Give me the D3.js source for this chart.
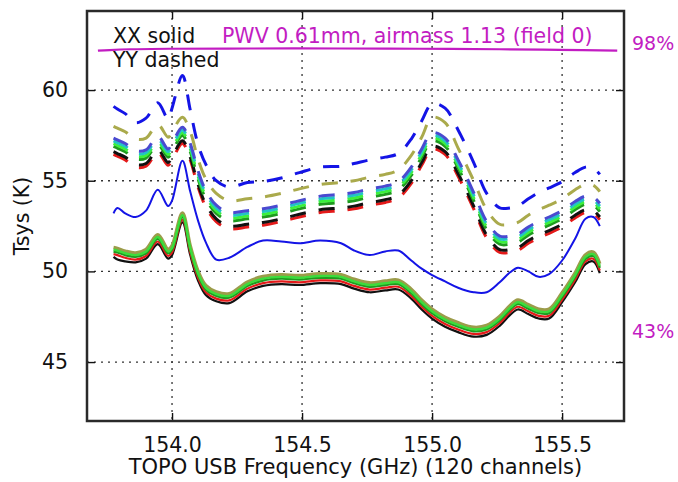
<!DOCTYPE html>
<html>
<head>
<meta charset="utf-8">
<script src="https://cdn.jsdelivr.net/npm/d3@7"></script>
<style>
  html, body { margin: 0; padding: 0; background: #fff; }
  svg { display: block; font-family: "DejaVu Sans", sans-serif; }
</style>
</head>
<body>
<svg id="chart" width="678" height="482"></svg>
<script>
// Channel frequencies (GHz, TOPO USB) sampled along the band
const freqGHz = [153.775, 153.79, 153.82, 153.86, 153.90, 153.945, 153.985, 154.00, 154.04, 154.07,
  154.10, 154.13, 154.17, 154.22, 154.29, 154.35, 154.42, 154.49, 154.57, 154.65,
  154.70, 154.76, 154.82, 154.87, 154.92, 154.96, 155.00, 155.05, 155.10, 155.16,
  155.21, 155.26, 155.30, 155.33, 155.37, 155.41, 155.45, 155.50, 155.55, 155.59,
  155.62, 155.645];

// XX polarisation Tsys (K), one array per antenna
const xxBlue  = [53.2, 53.5, 53.2, 53.0, 53.35, 54.5, 53.6, 53.9, 56.1, 54.4,
  52.8, 51.6, 50.65, 50.75, 51.35, 51.7, 51.65, 51.55, 51.7, 51.55,
  51.15, 50.9, 51.1, 51.15, 50.6, 50.15, 49.8, 49.45, 49.1, 48.85,
  48.85, 49.4, 49.95, 50.2, 50.0, 49.7, 49.85, 50.6, 51.8, 52.9, 53.0, 52.5];
const xxOlive = [51.32, 51.27, 51.12, 51.02, 51.22, 52.02, 51.22, 51.42, 53.22, 51.42,
  50.02, 49.22, 48.87, 48.77, 49.42, 49.72, 49.82, 49.77, 49.87, 49.82,
  49.57, 49.37, 49.47, 49.52, 49.02, 48.42, 47.92, 47.47, 47.17, 46.92,
  47.02, 47.52, 48.12, 48.42, 48.17, 47.92, 47.92, 48.82, 49.92, 50.92, 51.07, 50.42];
const xxLime  = [51.2, 51.15, 51.0, 50.9, 51.1, 51.9, 51.1, 51.3, 53.1, 51.3,
  49.9, 49.1, 48.75, 48.65, 49.3, 49.6, 49.7, 49.65, 49.75, 49.7,
  49.45, 49.25, 49.35, 49.4, 48.9, 48.3, 47.8, 47.35, 47.05, 46.8,
  46.9, 47.4, 48.0, 48.3, 48.05, 47.8, 47.8, 48.7, 49.8, 50.8, 50.95, 50.3];
const xxGreen = [51.1, 51.05, 50.9, 50.8, 51.0, 51.8, 51.0, 51.2, 53.0, 51.2,
  49.8, 49.0, 48.65, 48.55, 49.2, 49.5, 49.6, 49.55, 49.65, 49.6,
  49.35, 49.15, 49.25, 49.3, 48.8, 48.2, 47.7, 47.25, 46.95, 46.7,
  46.8, 47.3, 47.9, 48.2, 47.95, 47.7, 47.7, 48.6, 49.7, 50.7, 50.85, 50.2];
const xxRed   = [50.95, 50.9, 50.75, 50.65, 50.85, 51.65, 50.85, 51.05, 52.85, 51.05,
  49.65, 48.85, 48.5, 48.4, 49.05, 49.35, 49.45, 49.4, 49.5, 49.45,
  49.2, 49.0, 49.1, 49.15, 48.65, 48.05, 47.55, 47.1, 46.8, 46.55,
  46.65, 47.15, 47.75, 48.05, 47.8, 47.55, 47.55, 48.45, 49.55, 50.55, 50.7, 50.05];
const xxBlack = [50.8, 50.65, 50.55, 50.5, 50.7, 51.5, 50.7, 50.9, 52.7, 50.9,
  49.5, 48.7, 48.35, 48.25, 48.9, 49.2, 49.3, 49.25, 49.35, 49.3,
  49.05, 48.85, 48.95, 49.0, 48.5, 47.9, 47.4, 46.95, 46.65, 46.4,
  46.5, 47.0, 47.6, 47.9, 47.65, 47.4, 47.4, 48.3, 49.4, 50.4, 50.55, 49.9];

// YY polarisation Tsys (K), one array per antenna
const yyBlue  = [59.1, 58.95, 58.7, 58.2, 58.45, 59.3, 58.4, 59.0, 60.8, 58.9,
  57.0, 55.9, 55.0, 54.65, 54.9, 54.95, 55.15, 55.45, 55.75, 55.8,
  55.95, 56.15, 56.3, 56.5, 57.3, 58.3, 59.25, 59.0, 57.8, 56.0,
  54.3, 53.5, 53.5, 53.6, 54.0, 54.35, 54.6, 54.95, 55.45, 55.75, 55.7, 55.35];
const yyOlive = [58.0, 57.9, 57.7, 57.3, 57.35, 58.1, 57.4, 57.7, 58.5, 57.7,
  56.2, 55.1, 54.3, 53.9, 54.0, 54.1, 54.3, 54.55, 54.8, 54.9,
  55.0, 55.2, 55.35, 55.6, 56.4, 57.4, 58.5, 58.2, 56.8, 55.0,
  53.4, 52.6, 52.6, 52.7, 53.1, 53.4, 53.65, 54.0, 54.5, 54.8, 54.75, 54.4];
const yySlate = [57.35, 57.25, 57.05, 56.65, 56.7, 57.45, 56.75, 57.05, 57.95, 57.05,
  55.55, 54.45, 53.65, 53.25, 53.35, 53.45, 53.65, 53.9, 54.15, 54.25,
  54.35, 54.55, 54.7, 54.95, 55.75, 56.75, 57.65, 57.35, 56.15, 54.35,
  52.75, 51.95, 51.95, 52.05, 52.45, 52.75, 53.0, 53.35, 53.85, 54.15, 54.1, 53.75];
const yyCyan  = [57.2, 57.1, 56.9, 56.5, 56.55, 57.3, 56.6, 56.9, 57.8, 56.9,
  55.4, 54.3, 53.5, 53.1, 53.2, 53.3, 53.5, 53.75, 54.0, 54.1,
  54.2, 54.4, 54.55, 54.8, 55.6, 56.6, 57.5, 57.2, 56.0, 54.2,
  52.6, 51.8, 51.8, 51.9, 52.3, 52.6, 52.85, 53.2, 53.7, 54.0, 53.95, 53.6];
const yyLime  = [57.05, 56.95, 56.75, 56.35, 56.4, 57.15, 56.45, 56.75, 57.65, 56.75,
  55.25, 54.15, 53.35, 52.95, 53.05, 53.15, 53.35, 53.6, 53.85, 53.95,
  54.05, 54.25, 54.4, 54.65, 55.45, 56.45, 57.35, 57.05, 55.85, 54.05,
  52.45, 51.65, 51.65, 51.75, 52.15, 52.45, 52.7, 53.05, 53.55, 53.85, 53.8, 53.45];
const yyGreen = [56.9, 56.8, 56.6, 56.2, 56.25, 57.0, 56.3, 56.6, 57.5, 56.6,
  55.1, 54.0, 53.2, 52.8, 52.9, 53.0, 53.2, 53.45, 53.7, 53.8,
  53.9, 54.1, 54.25, 54.5, 55.3, 56.3, 57.2, 56.9, 55.7, 53.9,
  52.3, 51.5, 51.5, 51.6, 52.0, 52.3, 52.55, 52.9, 53.4, 53.7, 53.65, 53.3];
const yyBlack = [56.6, 56.5, 56.3, 55.9, 55.95, 56.7, 56.0, 56.3, 57.2, 56.3,
  54.8, 53.7, 52.9, 52.5, 52.6, 52.7, 52.9, 53.15, 53.4, 53.5,
  53.6, 53.8, 53.95, 54.2, 55.0, 56.0, 56.9, 56.6, 55.4, 53.6,
  52.0, 51.2, 51.2, 51.3, 51.7, 52.0, 52.25, 52.6, 53.1, 53.4, 53.35, 53.0];
const yyRed   = [56.45, 56.35, 56.15, 55.75, 55.8, 56.55, 55.85, 56.15, 57.05, 56.15,
  54.65, 53.55, 52.75, 52.35, 52.45, 52.55, 52.75, 53.0, 53.25, 53.35,
  53.45, 53.65, 53.8, 54.05, 54.85, 55.85, 56.75, 56.45, 55.25, 53.45,
  51.85, 51.05, 51.05, 51.15, 51.55, 51.85, 52.1, 52.45, 52.95, 53.25, 53.2, 52.85];

// Atmospheric transmission (%) across the band
const atmFreqGHz = [153.715, 153.76, 153.84, 153.99, 154.30, 154.65, 154.95, 155.26, 155.49, 155.712];
const atmPercent = [97.57, 97.7, 97.85, 97.95, 98.0, 98.0, 97.95, 97.85, 97.75, 97.57];
const atmLabels = ["98%", "43%"];

const xTicks = [154.0, 154.5, 155.0, 155.5];
const yTicks = [45, 50, 55, 60];

const svg = d3.select("#chart");
const plot = { left: 87, right: 624, top: 11, bottom: 421 };

const x = d3.scaleLinear().domain([153.673, 155.738]).range([plot.left, plot.right]);
const y = d3.scaleLinear().domain([41.75, 64.36]).range([plot.bottom, plot.top]);
const yAtm = d3.scaleLinear().domain([43, 98]).range([332, 48.5]);

svg.append("defs").append("clipPath").attr("id", "plotClip")
  .append("rect")
  .attr("x", plot.left).attr("y", plot.top)
  .attr("width", plot.right - plot.left).attr("height", plot.bottom - plot.top);

// Dotted grid
const grid = svg.append("g").attr("stroke", "#333").attr("stroke-width", 1.3)
  .attr("stroke-dasharray", "2,5");
grid.selectAll(".gx").data(xTicks).join("line")
  .attr("x1", d => x(d)).attr("x2", d => x(d))
  .attr("y1", plot.top).attr("y2", plot.bottom);
grid.selectAll(".gy").data(yTicks).join("line")
  .attr("x1", plot.left).attr("x2", plot.right)
  .attr("y1", d => y(d)).attr("y2", d => y(d));

const lineGen = d3.line()
  .x((d, i) => x(freqGHz[i]))
  .y(d => y(d))
  .curve(d3.curveCatmullRom.alpha(0.5));

const curves = svg.append("g").attr("clip-path", "url(#plotClip)")
  .attr("fill", "none").attr("stroke-linejoin", "round");

// YY (dashed)
const yySeries = [
  { v: yyRed, c: "#e41a1a" },
  { v: yyBlack, c: "#111111" },
  { v: yyGreen, c: "#1f9a1f" },
  { v: yyLime, c: "#3cf03c" },
  { v: yyCyan, c: "#22c4c4" },
  { v: yySlate, c: "#4a4ad0" },
  { v: yyOlive, c: "#aaaa4c" },
  { v: yyBlue, c: "#1414e6" }
];
curves.selectAll(".yy").data(yySeries).join("path")
  .attr("d", d => lineGen(d.v))
  .attr("stroke", d => d.c)
  .attr("stroke-width", 3)
  .attr("stroke-dasharray", "16,13");

// XX (solid)
const xxSeries = [
  { v: xxOlive, c: "#9c9c4a", w: 3.4 },
  { v: xxBlack, c: "#111111", w: 2.2 },
  { v: xxRed, c: "#e41a1a", w: 2.2 },
  { v: xxGreen, c: "#1f9a1f", w: 2.4 },
  { v: xxLime, c: "#3cdc3c", w: 2.4 },
  { v: xxBlue, c: "#1414e6", w: 2 }
];
curves.selectAll(".xx").data(xxSeries).join("path")
  .attr("d", d => lineGen(d.v))
  .attr("stroke", d => d.c)
  .attr("stroke-width", d => d.w);

// Atmospheric transmission curve
svg.append("path")
  .datum(atmPercent)
  .attr("fill", "none")
  .attr("stroke", "#c21cc2")
  .attr("stroke-width", 2.2)
  .attr("d", d3.line()
    .x((d, i) => x(atmFreqGHz[i]))
    .y(d => yAtm(d))
    .curve(d3.curveCatmullRom.alpha(0.5)));

// Frame and inward ticks on all four sides
const axes = svg.append("g");
const tickLen = 8;
const xAxisBottom = axes.append("g").attr("transform", `translate(0,${plot.bottom})`)
  .call(d3.axisBottom(x).tickValues(xTicks).tickSizeInner(-tickLen).tickSizeOuter(0)
    .tickPadding(16).tickFormat(d3.format(".1f")));
axes.append("g").attr("transform", `translate(0,${plot.top})`)
  .call(d3.axisTop(x).tickValues(xTicks).tickSizeInner(-tickLen).tickSizeOuter(0).tickFormat(""));
axes.append("g").attr("transform", `translate(${plot.left},0)`)
  .call(d3.axisLeft(y).tickValues(yTicks).tickSizeInner(-tickLen).tickSizeOuter(0)
    .tickPadding(19).tickFormat(d3.format("d")));
axes.append("g").attr("transform", `translate(${plot.right},0)`)
  .call(d3.axisRight(y).tickValues(yTicks).tickSizeInner(-tickLen).tickSizeOuter(0).tickFormat(""));
axes.selectAll(".domain").remove();
axes.selectAll(".tick line").attr("stroke", "#111").attr("stroke-width", 1.4);
axes.selectAll(".tick text")
  .attr("font-family", "DejaVu Sans, sans-serif")
  .attr("font-size", 20.5).attr("fill", "#111");

svg.append("rect")
  .attr("x", plot.left).attr("y", plot.top)
  .attr("width", plot.right - plot.left).attr("height", plot.bottom - plot.top)
  .attr("fill", "none").attr("stroke", "#2a2a2a").attr("stroke-width", 2.5);

// Axis titles
svg.append("text")
  .attr("x", (plot.left + plot.right) / 2).attr("y", 474)
  .attr("text-anchor", "middle").attr("font-size", 21).attr("fill", "#111")
  .text("TOPO USB Frequency (GHz) (120 channels)");
svg.append("text")
  .attr("transform", `translate(29,${(plot.top + plot.bottom) / 2}) rotate(-90)`)
  .attr("text-anchor", "middle").attr("font-size", 20.5).attr("fill", "#111")
  .text("Tsys (K)");

// Legend and annotation text
svg.append("text").attr("x", 113).attr("y", 43).attr("font-size", 20.5).attr("fill", "#111").text("XX solid");
svg.append("text").attr("x", 113).attr("y", 67).attr("font-size", 20.5).attr("fill", "#111").text("YY dashed");
svg.append("text").attr("x", 222).attr("y", 43).attr("font-size", 20.5).attr("fill", "#c21cc2")
  .text("PWV 0.61mm, airmass 1.13 (field 0)");

// Transmission range labels on the right
svg.append("text").attr("x", 632).attr("y", yAtm(98) + 1.5).attr("font-size", 19).attr("fill", "#c21cc2").text(atmLabels[0]);
svg.append("text").attr("x", 632).attr("y", yAtm(43) + 6).attr("font-size", 19).attr("fill", "#c21cc2").text(atmLabels[1]);
</script>
</body>
</html>
